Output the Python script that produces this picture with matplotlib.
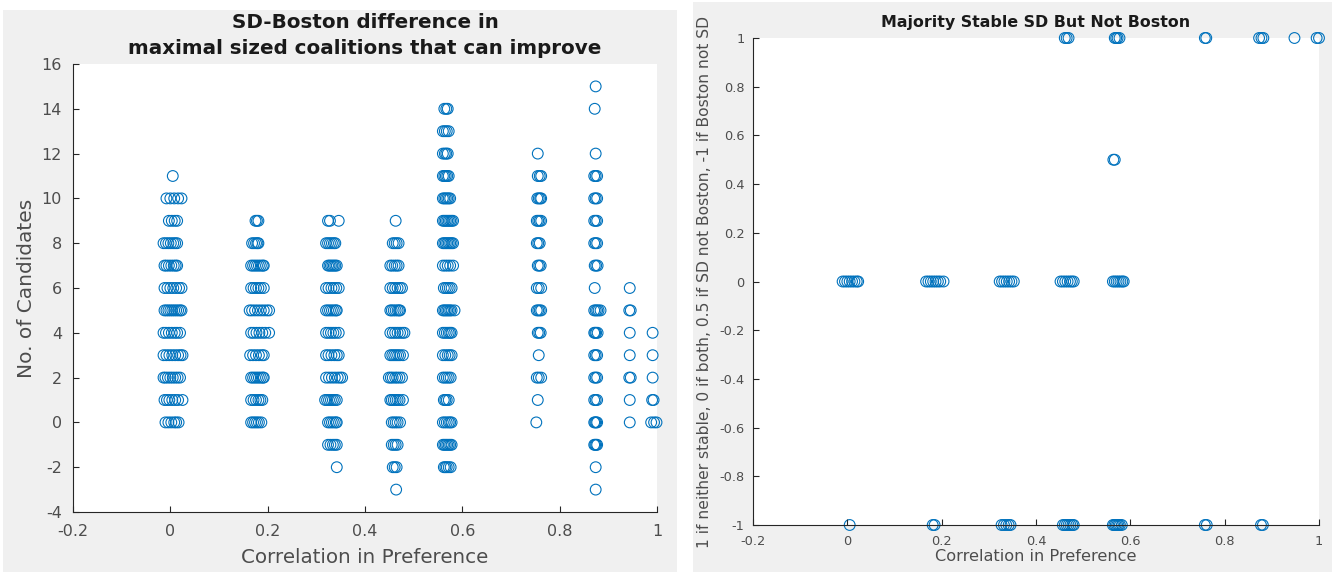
import numpy as np
import matplotlib
matplotlib.use('Agg')
import matplotlib.pyplot as plt
from matplotlib.patches import Rectangle

plt.rcParams['axes.unicode_minus'] = False

# left panel: SD-Boston difference, one dict per correlation group {y: [x, ...]}
grp_00 = {11: [0.005],
          10: [-0.008, 0.0, 0.008, 0.016, 0.023],
          9: [-0.003, 0.003, 0.009, 0.014],
          8: [-0.014, -0.009, -0.004, 0.001, 0.006, 0.010, 0.014],
          7: [-0.012, -0.008, -0.003, 0.002, 0.007, 0.011, 0.014],
          6: [-0.012, -0.006, 0.0, 0.006, 0.012, 0.018, 0.023],
          5: [-0.012, -0.008, -0.004, 0.0, 0.004, 0.008, 0.012, 0.016, 0.020, 0.023],
          4: [-0.014, -0.009, -0.003, 0.003, 0.009, 0.014, 0.020],
          3: [-0.014, -0.008, -0.002, 0.004, 0.010, 0.016, 0.021, 0.025],
          2: [-0.014, -0.010, -0.005, 0.0, 0.005, 0.010, 0.015, 0.020],
          1: [-0.012, -0.007, -0.002, 0.004, 0.010, 0.016, 0.025],
          0: [-0.010, -0.004, 0.002, 0.008, 0.012, 0.017]}
grp_18 = {9: [0.175, 0.178, 0.181],
          8: [0.168, 0.172, 0.176, 0.179, 0.181],
          7: [0.166, 0.170, 0.174, 0.178, 0.182, 0.186, 0.190, 0.192],
          6: [0.166, 0.171, 0.176, 0.181, 0.186, 0.192],
          5: [0.163, 0.168, 0.174, 0.180, 0.186, 0.192, 0.198, 0.203],
          4: [0.166, 0.171, 0.177, 0.183, 0.189, 0.195, 0.203],
          3: [0.164, 0.170, 0.176, 0.182, 0.188, 0.192],
          2: [0.166, 0.170, 0.174, 0.178, 0.182, 0.186, 0.190, 0.192],
          1: [0.166, 0.171, 0.176, 0.181, 0.185, 0.189],
          0: [0.166, 0.170, 0.174, 0.178, 0.182, 0.187]}
grp_33 = {9: [0.324, 0.328, 0.346],
          8: [0.320, 0.324, 0.328, 0.332, 0.336, 0.339],
          7: [0.324, 0.327, 0.330, 0.333, 0.336, 0.339, 0.342],
          6: [0.320, 0.325, 0.331, 0.336, 0.341, 0.346],
          5: [0.320, 0.324, 0.328, 0.332, 0.336, 0.340, 0.342],
          4: [0.320, 0.325, 0.330, 0.335, 0.340, 0.346],
          3: [0.320, 0.325, 0.331, 0.337, 0.342, 0.346],
          2: [0.320, 0.326, 0.332, 0.338, 0.344, 0.349, 0.353],
          1: [0.318, 0.322, 0.326, 0.330, 0.334, 0.338, 0.342],
          0: [0.324, 0.328, 0.332, 0.336, 0.340, 0.342],
          -1: [0.324, 0.329, 0.334, 0.338, 0.342],
          -2: [0.342]}
grp_46 = {9: [0.463],
          8: [0.457, 0.461, 0.465, 0.469],
          7: [0.452, 0.456, 0.461, 0.465, 0.469],
          6: [0.452, 0.457, 0.462, 0.467, 0.472, 0.476],
          5: [0.452, 0.455, 0.459, 0.463, 0.467, 0.470, 0.472],
          4: [0.452, 0.457, 0.462, 0.467, 0.472, 0.477, 0.481],
          3: [0.452, 0.456, 0.460, 0.464, 0.468, 0.472, 0.478],
          2: [0.449, 0.453, 0.457, 0.462, 0.466, 0.471, 0.476],
          1: [0.452, 0.455, 0.459, 0.463, 0.467, 0.471, 0.478],
          0: [0.455, 0.459, 0.463, 0.467, 0.472],
          -1: [0.455, 0.459, 0.463, 0.467],
          -2: [0.457, 0.461, 0.465],
          -3: [0.464]}
grp_57 = {14: [0.563, 0.567, 0.570],
          13: [0.560, 0.564, 0.568, 0.572],
          12: [0.560, 0.564, 0.567, 0.570],
          11: [0.560, 0.563, 0.566, 0.569, 0.572],
          10: [0.560, 0.563, 0.566, 0.569, 0.572, 0.575],
          9: [0.560, 0.563, 0.566, 0.569, 0.572, 0.575, 0.578, 0.581],
          8: [0.560, 0.563, 0.566, 0.569, 0.572, 0.575, 0.578, 0.581],
          7: [0.560, 0.565, 0.570, 0.575, 0.581],
          6: [0.562, 0.566, 0.570, 0.574, 0.578],
          5: [0.560, 0.563, 0.566, 0.569, 0.572, 0.575, 0.578, 0.584],
          4: [0.560, 0.564, 0.568, 0.572, 0.575, 0.578],
          3: [0.560, 0.565, 0.570, 0.574, 0.578],
          2: [0.560, 0.564, 0.568, 0.572, 0.576],
          1: [0.562, 0.565, 0.568, 0.572],
          0: [0.560, 0.564, 0.568, 0.572, 0.575, 0.578],
          -1: [0.560, 0.563, 0.566, 0.569, 0.572, 0.575, 0.578],
          -2: [0.562, 0.565, 0.568, 0.572, 0.576]}
grp_75 = {12: [0.755],
          11: [0.755, 0.759, 0.762],
          10: [0.754, 0.757, 0.760, 0.762],
          9: [0.753, 0.756, 0.759, 0.762],
          8: [0.753, 0.756, 0.759],
          7: [0.755, 0.758, 0.761],
          6: [0.753, 0.757, 0.762],
          5: [0.753, 0.756, 0.759, 0.762],
          4: [0.755, 0.758, 0.761],
          3: [0.757],
          2: [0.753, 0.757, 0.762],
          1: [0.755],
          0: [0.752]}
grp_87 = {15: [0.874],
          14: [0.872],
          12: [0.874],
          11: [0.871, 0.874, 0.877],
          10: [0.871, 0.874, 0.877],
          9: [0.871, 0.874, 0.877],
          8: [0.871, 0.874, 0.877],
          7: [0.872, 0.875, 0.878],
          6: [0.872],
          5: [0.871, 0.874, 0.877, 0.880, 0.884],
          4: [0.871, 0.873, 0.875, 0.878],
          3: [0.871, 0.874, 0.877],
          2: [0.871, 0.874, 0.877],
          1: [0.871, 0.874, 0.877],
          0: [0.871, 0.873, 0.875, 0.877],
          -1: [0.871, 0.873, 0.875, 0.877],
          -2: [0.874],
          -3: [0.874]}
grp_94 = {6: [0.944], 5: [0.943, 0.946], 4: [0.944], 3: [0.944],
          2: [0.943, 0.946], 1: [0.944], 0: [0.944]}
grp_99 = {4: [0.991], 3: [0.991], 2: [0.991], 1: [0.990, 0.993],
          0: [0.988, 0.994, 0.999]}

# right panel: majority stable indicator {y: [x, ...]}
stable = {1: [0.461, 0.465, 0.469, 0.567, 0.570, 0.573, 0.577, 0.758, 0.761,
              0.873, 0.878, 0.882, 0.948, 0.995, 1.0],
          0.5: [0.564, 0.567],
          0: [-0.010, -0.005, 0.0, 0.005, 0.010, 0.015, 0.020, 0.023,
              0.167, 0.172, 0.177, 0.182, 0.187, 0.192, 0.197, 0.204,
              0.323, 0.328, 0.333, 0.338, 0.343, 0.348, 0.353,
              0.452, 0.457, 0.462, 0.467, 0.472, 0.476, 0.480,
              0.563, 0.567, 0.571, 0.575, 0.579, 0.583, 0.586],
          -1: [0.005, 0.181, 0.185, 0.327, 0.332, 0.337, 0.342, 0.346,
               0.457, 0.461, 0.465, 0.469, 0.473, 0.477, 0.480,
               0.563, 0.566, 0.569, 0.572, 0.575, 0.578, 0.582,
               0.758, 0.762, 0.877, 0.881]}

def flat(d):
   xs, ys = [], []
   for y, row in d.items():
      xs += row
      ys += [y] * len(row)
   return xs, ys

blue = '#0072BD'
txt = '#4d4d4d'
grey_bg = '#f0f0f0'

fig = plt.figure(figsize=(13.32, 5.72), dpi=100, facecolor='white')
W, H = 1332.0, 572.0
# grey panels behind each axes
fig.add_artist(Rectangle((3 / W, 0), 674 / W, 562 / H, transform=fig.transFigure,
                         facecolor=grey_bg, edgecolor='none', zorder=-10))
fig.add_artist(Rectangle((693 / W, 0), 639 / W, 570 / H, transform=fig.transFigure,
                         facecolor=grey_bg, edgecolor='none', zorder=-10))

def style(ax, fs, xpad, ypad):
   for s in ['top', 'right']:
      ax.spines[s].set_visible(False)
   for s in ['left', 'bottom']:
      ax.spines[s].set_color('#262626')
      ax.spines[s].set_linewidth(0.8)
   ax.tick_params(direction='in', length=4, width=0.8, colors='#262626',
                  labelcolor=txt, labelsize=fs)
   ax.tick_params(axis='x', pad=xpad)
   ax.tick_params(axis='y', pad=ypad)
   ax.set_facecolor('white')

# left
ax1 = fig.add_axes([73 / W, 1 - 512 / H, 584 / W, 448 / H])
for g in [grp_00, grp_18, grp_33, grp_46, grp_57, grp_75, grp_87, grp_94, grp_99]:
   xs, ys = flat(g)
   ax1.scatter(xs, ys, s=60, facecolors='none', edgecolors=blue, linewidths=0.8, clip_on=False)
ax1.set_xlim(-0.2, 1)
ax1.set_ylim(-4, 16)
ax1.set_xticks(np.arange(-0.2, 1.01, 0.2))
ax1.set_xticklabels(['-0.2', '0', '0.2', '0.4', '0.6', '0.8', '1'])
ax1.set_yticks(np.arange(-4, 17, 2))
style(ax1, 11.5, 9, 8)
ax1.set_xlabel('Correlation in Preference', fontsize=14.3, color=txt, labelpad=6)
ax1.set_ylabel('No. of Candidates', fontsize=14.5, color=txt, labelpad=4)
ax1.set_title('SD-Boston difference in\nmaximal sized coalitions that can improve',
              fontsize=14.3, fontweight='bold', color='#1a1a1a', pad=7, linespacing=1.5)

# right
ax2 = fig.add_axes([753 / W, 1 - 525 / H, 566 / W, 487 / H])
xs, ys = flat(stable)
ax2.scatter(xs, ys, s=60, facecolors='none', edgecolors=blue, linewidths=0.8, clip_on=False)
ax2.set_xlim(-0.2, 1)
ax2.set_ylim(-1, 1)
ax2.set_xticks(np.arange(-0.2, 1.01, 0.2))
ax2.set_xticklabels(['-0.2', '0', '0.2', '0.4', '0.6', '0.8', '1'])
ax2.set_yticks(np.arange(-1, 1.01, 0.2))
ax2.set_yticklabels(['-1', '-0.8', '-0.6', '-0.4', '-0.2', '0', '0.2', '0.4', '0.6', '0.8', '1'])
style(ax2, 9.3, 7, 6)
ax2.set_xlabel('Correlation in Preference', fontsize=11.6, color=txt, labelpad=1)
ax2.set_ylabel('1 if neither stable, 0 if both, 0.5 if SD not Boston, -1 if Boston not SD',
               fontsize=11.2, color=txt, labelpad=5)
ax2.set_title('Majority Stable SD But Not Boston', fontsize=11.4, fontweight='bold',
              color='#1a1a1a', pad=8)

fig.savefig('out.png', dpi=100)
